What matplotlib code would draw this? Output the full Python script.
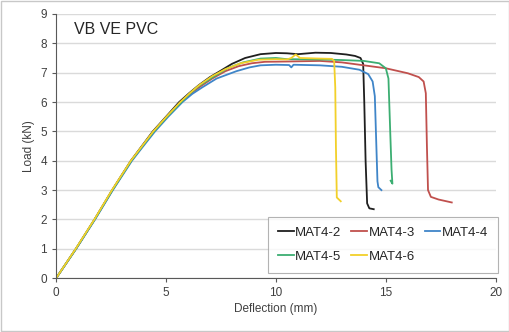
import matplotlib.pyplot as plt
import numpy as np

plt.rcParams['font.family'] = ['Liberation Sans', 'DejaVu Sans']

# Deflection (mm) / Load (kN)
mat42_x = [0, 0.9, 1.75, 2.55, 3.4, 3.9, 4.4, 5.0, 5.6, 6.05, 6.5, 7.0, 7.45, 8.0, 8.6, 9.3, 10.0, 10.5, 11.0, 11.8, 12.5, 13.2, 13.6, 13.85, 13.97, 14.02, 14.08, 14.15, 14.25, 14.45]
mat42_y = [0, 1.0, 2.0, 3.0, 4.0, 4.5, 5.0, 5.5, 6.0, 6.3, 6.58, 6.85, 7.05, 7.3, 7.5, 7.63, 7.67, 7.66, 7.63, 7.68, 7.67, 7.62, 7.57, 7.5, 7.3, 6.0, 4.0, 2.55, 2.38, 2.35]

mat43_x = [0, 0.9, 1.75, 2.56, 3.42, 3.93, 4.45, 5.05, 5.7, 6.15, 6.6, 7.1, 7.7, 8.3, 8.9, 9.5, 10.5, 12.0, 13.0, 14.0, 15.0, 16.0, 16.5, 16.72, 16.82, 16.87, 16.92, 17.05, 17.4, 18.0]
mat43_y = [0, 1.0, 2.0, 3.0, 4.0, 4.5, 5.0, 5.5, 6.0, 6.3, 6.55, 6.8, 7.05, 7.22, 7.32, 7.37, 7.38, 7.4, 7.35, 7.25, 7.15, 6.98, 6.85, 6.7, 6.3, 4.5, 3.0, 2.77, 2.68, 2.58]

mat44_x = [0, 0.91, 1.77, 2.58, 3.45, 3.97, 4.5, 5.1, 5.75, 6.2, 6.65, 7.3, 8.2, 8.8, 9.3, 10.0, 10.6, 10.7, 10.8, 12.0, 13.0, 13.8, 14.2, 14.4, 14.5, 14.57, 14.62, 14.66, 14.8]
mat44_y = [0, 1.0, 2.0, 3.0, 4.0, 4.5, 5.0, 5.5, 6.0, 6.28, 6.5, 6.8, 7.05, 7.18, 7.25, 7.27, 7.26, 7.18, 7.27, 7.25, 7.2, 7.1, 6.95, 6.7, 6.2, 4.5, 3.3, 3.1, 3.0]

mat45_x = [0, 0.9, 1.75, 2.56, 3.42, 3.93, 4.45, 5.05, 5.7, 6.1, 6.5, 7.2, 7.8, 8.5, 9.3, 10.0, 10.5, 12.0, 13.0, 14.0, 14.7, 15.0, 15.12, 15.2, 15.26, 15.3, 15.22]
mat45_y = [0, 1.0, 2.0, 3.0, 4.0, 4.5, 5.0, 5.5, 6.0, 6.3, 6.55, 6.88, 7.15, 7.35, 7.48, 7.5, 7.46, 7.45, 7.43, 7.4, 7.32, 7.15, 6.8, 5.0, 3.7, 3.22, 3.32]

mat46_x = [0, 0.89, 1.74, 2.54, 3.4, 3.91, 4.42, 5.02, 5.65, 6.08, 6.5, 7.1, 7.7, 8.4, 9.2, 10.0, 10.5, 10.7, 10.9, 11.1, 12.0, 12.55, 12.65, 12.7, 12.73, 12.77, 12.95]
mat46_y = [0, 1.0, 2.0, 3.0, 4.0, 4.5, 5.0, 5.5, 6.0, 6.3, 6.57, 6.88, 7.12, 7.32, 7.44, 7.46, 7.45, 7.5, 7.62, 7.5, 7.48, 7.47, 7.4, 6.5, 4.5, 2.75, 2.62]

series = [
    ('MAT4-2', mat42_x, mat42_y, '#1f1f1f'),
    ('MAT4-3', mat43_x, mat43_y, '#c0504d'),
    ('MAT4-4', mat44_x, mat44_y, '#3f85c8'),
    ('MAT4-5', mat45_x, mat45_y, '#3cae72'),
    ('MAT4-6', mat46_x, mat46_y, '#f2d02a'),
]

fig = plt.figure(figsize=(5.1, 3.32), dpi=100)
ax = fig.add_axes([0.110, 0.162, 0.862, 0.796])

lines = {}
for name, xs, ys, col in series:
    lines[name], = ax.plot(xs, ys, color=col, lw=1.3, label=name)

ax.set_xlim(0, 20)
ax.set_ylim(0, 9)
ax.set_xticks(np.arange(0, 21, 5))
ax.set_yticks(np.arange(0, 10, 1))
ax.yaxis.grid(True, color='#dadada', lw=1)
ax.set_axisbelow(True)
for s in ['top', 'right']:
    ax.spines[s].set_visible(False)
for s in ['left', 'bottom']:
    ax.spines[s].set_color('#595959')
ax.tick_params(direction='out', length=3, color='#595959', labelsize=8.5, labelcolor='#404040')

ax.set_xlabel('Deflection (mm)', fontsize=8.5, color='#404040', labelpad=3)
ax.set_ylabel('Load (kN)', fontsize=8.5, color='#404040', labelpad=4)
ax.text(0.04, 0.94, 'VB VE PVC', transform=ax.transAxes, fontsize=11.5, color='#262626', va='center')

# legend filled row by row: MAT4-2, MAT4-3, MAT4-4 / MAT4-5, MAT4-6
order = ['MAT4-2', 'MAT4-5', 'MAT4-3', 'MAT4-6', 'MAT4-4']
leg = ax.legend([lines[n] for n in order], order, ncol=3, loc='lower right',
                bbox_to_anchor=(1.005, 0.02), borderaxespad=0, fontsize=9.5, frameon=True,
                fancybox=False, handlelength=1.2, handletextpad=0.1, columnspacing=0.75,
                borderpad=0.75, labelspacing=0.9)
leg.get_frame().set_edgecolor('#a0a0a0')
leg.get_frame().set_linewidth(0.8)
for t in leg.get_texts():
    t.set_color('#262626')

# light border around the whole chart area
fig.patches.append(plt.Rectangle((0.002, 0.003), 0.996, 0.994, transform=fig.transFigure,
                                 fill=False, edgecolor='#c8c8c8', lw=1))

fig.savefig('out.png', dpi=100)
